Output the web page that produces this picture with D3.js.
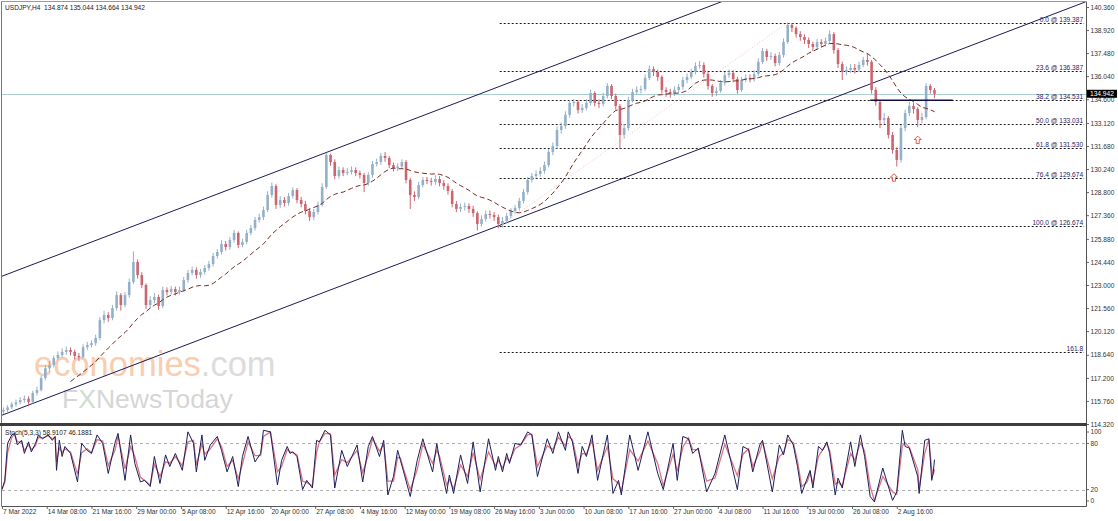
<!DOCTYPE html>
<html><head><meta charset="utf-8">
<script src="https://cdn.jsdelivr.net/npm/d3@7"></script>
<style>
body{margin:0;background:#fff;}
svg{display:block;}
</style></head><body>
<svg id="c" width="1118" height="521"></svg>
<script>
// ---------------- DATA ----------------
const symbolTitle = "USDJPY,H4  134.874 135.044 134.664 134.942";
const stochTitle = "Stoch(5,3,3) 58.9107 46.1881";
const firstOpen = 115.10;
// each candle = 3 consecutive H4 bars
const closes = [
115.19,115.36,115.55,115.68,115.82,115.90,115.70,116.26,116.44,117.19,
117.80,118.00,118.44,118.63,118.82,118.94,118.82,118.57,118.50,119.12,
119.25,119.37,119.69,120.81,121.13,120.94,121.56,122.37,121.75,122.37,
123.19,124.44,123.62,123.00,121.75,122.06,122.25,121.69,122.69,122.56,
122.75,122.56,122.69,123.31,123.75,123.94,123.62,123.81,124.06,124.31,
124.81,125.06,125.56,125.37,125.81,126.25,125.50,125.69,126.25,126.56,
127.06,127.24,127.68,128.62,129.18,128.00,128.31,128.12,128.56,128.93,
128.31,128.06,127.62,127.24,127.56,128.00,129.12,131.12,130.68,129.81,
130.18,129.99,130.06,130.18,129.99,129.87,129.37,129.87,130.56,130.68,
131.06,130.93,130.49,130.31,130.40,130.68,129.56,128.62,128.50,129.24,
129.56,129.49,129.43,129.62,129.37,129.18,128.87,128.06,127.75,127.87,
127.93,127.75,127.49,126.81,127.12,127.43,127.37,127.24,126.81,127.00,
127.31,127.62,127.81,128.25,128.81,129.56,129.81,129.93,130.12,130.49,
131.31,131.68,132.68,132.93,133.62,134.37,134.43,133.93,134.06,134.37,
134.99,134.37,134.31,134.80,135.43,134.80,134.18,132.37,132.80,134.55,
135.05,135.18,135.24,135.93,136.49,136.30,135.99,135.18,135.05,134.95,
135.18,135.37,135.80,135.99,136.30,136.68,136.74,136.18,135.43,134.99,
135.12,135.62,136.11,136.24,135.86,135.18,135.80,135.93,135.85,136.18,
136.93,137.61,137.24,137.30,136.86,137.36,138.17,139.24,139.05,138.67,
138.49,138.30,138.05,137.86,138.17,138.05,138.24,138.67,137.67,136.80,
136.30,136.43,136.55,136.45,136.74,137.05,136.93,135.18,134.43,133.30,
133.43,132.37,131.43,130.81,132.80,133.74,134.18,133.99,133.30,133.49,
135.43,135.18,134.942];
const highs = [
115.35,115.50,115.70,115.85,116.00,116.10,116.05,116.40,116.65,117.35,
118.00,118.25,118.60,118.85,119.05,119.15,119.10,118.95,118.75,119.30,
119.45,119.55,119.90,121.00,121.40,121.30,121.75,122.60,122.50,122.55,
123.40,125.10,124.60,123.80,123.10,122.30,122.50,122.40,122.90,122.85,
122.95,122.90,122.90,123.50,123.95,124.15,124.10,124.00,124.25,124.50,
125.00,125.25,125.80,125.75,126.00,126.45,126.35,125.90,126.45,126.75,
127.25,127.45,127.90,128.85,129.40,129.30,128.55,128.50,128.75,129.10,
129.05,128.50,128.25,127.80,127.75,128.20,129.35,131.25,131.20,130.85,
130.40,130.35,130.30,130.40,130.35,130.15,130.00,130.05,130.75,130.90,
131.25,131.30,131.05,130.65,130.60,130.85,130.80,129.70,128.85,129.45,
129.75,129.75,129.70,129.85,129.80,129.55,129.35,129.00,128.25,128.10,
128.15,128.10,127.95,127.60,127.35,127.65,127.65,127.55,127.40,127.25,
127.50,127.80,128.00,128.45,129.00,129.75,130.00,130.15,130.35,130.70,
131.50,131.90,132.90,133.15,133.85,134.55,134.60,134.55,134.30,134.60,
135.20,135.10,134.60,135.00,135.60,135.55,134.95,134.30,133.05,134.75,
135.25,135.40,135.45,136.15,136.70,136.65,136.45,136.10,135.35,135.25,
135.40,135.55,136.00,136.20,136.50,136.90,137.00,136.90,136.30,135.55,
135.35,135.80,136.30,136.45,136.40,136.00,136.00,136.15,136.15,136.40,
137.15,137.80,137.75,137.55,137.45,137.55,138.40,139.39,139.35,139.15,
138.85,138.65,138.45,138.20,138.35,138.35,138.45,138.90,138.80,137.80,
136.95,136.65,136.80,136.80,136.95,137.25,137.45,137.05,135.35,134.55,
133.75,133.55,132.55,131.60,133.00,133.95,134.45,134.40,134.10,133.75,
135.60,135.55,135.30];
const lows = [
114.95,115.05,115.25,115.40,115.55,115.65,115.50,115.60,116.10,116.35,
117.05,117.60,117.85,118.30,118.45,118.65,118.60,118.35,118.25,118.40,
118.95,119.10,119.20,119.55,120.60,120.70,120.80,121.40,121.40,121.60,
122.20,123.05,123.40,122.80,121.50,121.55,121.85,121.45,121.55,122.35,
122.40,122.35,122.40,122.55,123.15,123.60,123.40,123.45,123.65,123.90,
124.15,124.65,124.90,125.15,125.20,125.65,125.30,125.35,125.55,126.10,
126.40,126.90,127.05,127.55,128.45,127.75,127.80,127.90,127.95,128.40,
128.10,127.85,127.40,127.00,127.05,127.40,127.90,129.00,130.45,129.60,
129.65,129.80,129.85,129.90,129.80,129.65,128.80,129.20,129.70,130.40,
130.50,130.70,130.30,130.10,130.10,130.25,129.35,127.75,128.25,128.35,
129.10,129.30,129.20,129.25,129.15,128.95,128.65,127.85,127.55,127.55,
127.65,127.50,127.25,126.40,126.65,126.95,127.15,127.00,126.55,126.60,
126.85,127.15,127.45,127.65,128.10,128.65,129.40,129.65,129.75,129.95,
130.35,131.10,131.50,132.45,132.75,133.45,134.15,133.70,133.75,133.90,
134.20,134.15,134.05,134.15,134.65,134.60,133.95,131.50,132.15,132.65,
134.40,134.85,134.95,135.10,135.80,136.05,135.75,134.95,134.75,134.70,
134.80,135.00,135.20,135.60,135.85,136.15,136.50,135.95,135.20,134.75,
134.80,135.00,135.45,135.95,135.65,134.95,135.05,135.65,135.65,135.70,
136.05,136.80,137.00,137.05,136.65,136.70,137.20,138.05,138.80,138.45,
138.25,138.05,137.80,137.60,137.70,137.85,137.90,138.10,137.45,136.55,
135.80,136.10,136.25,136.20,136.30,136.60,136.70,134.95,134.20,132.80,
133.05,132.15,131.20,130.40,130.65,132.60,133.55,133.70,132.85,133.10,
133.35,134.95,134.664];
const barsPerCandle = 3;
const maPeriod = 17; // candles (≈50 H4 bars)

const priceTicks = [140.360,138.920,137.480,136.040,134.600,133.120,131.680,130.240,128.800,127.360,125.880,124.440,123.000,121.560,120.120,118.640,117.200,115.760,114.320];
const lastPrice = 134.942;

const timeBars = [0,32,64,96,128,160,192,224,256,288,320,352,384,416,448,480,512,544,576,608,640];
const timeLabels = ["7 Mar 2022","14 Mar 08:00","21 Mar 16:00","29 Mar 00:00","5 Apr 08:00","12 Apr 16:00","20 Apr 00:00","27 Apr 08:00","4 May 16:00","12 May 00:00","19 May 08:00","26 May 16:00","3 Jun 00:00","10 Jun 08:00","17 Jun 16:00","27 Jun 00:00","4 Jul 08:00","11 Jul 16:00","19 Jul 00:00","26 Jul 08:00","2 Aug 16:00"];

const fibLevels = [0.0,23.6,38.2,50.0,61.8,76.4,100.0,161.8];
const fibPrices = [139.387,136.387,134.531,133.031,131.530,129.674,126.674,118.817];
const fibAnchorBars = [356,562];
const fibAnchorPrices = [126.674,139.387];

const channelUpper = [[0,123.55],[560,142.20]];
const channelLower = [[0,114.87],[775,140.68]];
const neckline = [[621,134.531],[680,134.531]];
const arrowBars = [638,655];
const arrowPrices = [129.95,132.30];

const stochBars = [0,2,4,7,9,11,14,16,19,21,24,26,29,33,36,38,39,41,43,45,49,54,57,61,64,68,72,76,81,83,88,92,95,99,102,106,109,113,117,120,124,129,133,137,139,143,145,149,154,157,161,165,169,172,176,181,185,187,192,197,200,204,206,208,211,215,218,222,225,227,231,235,238,243,247,254,258,262,265,270,273,276,280,283,285,287,292,297,301,308,311,313,318,320,323,328,333,337,342,348,353,355,358,361,363,367,371,376,379,383,390,394,398,403,405,408,412,415,418,422,426,433,437,441,443,449,455,462,469,473,480,483,487,491,494,498,504,510,517,526,530,534,537,542,544,551,556,559,562,566,569,572,576,578,580,584,587,590,592,596,598,601,607,610,614,617,621,624,630,637,640,644,646,649,655,656,660,663,665,666,667];
const stochMain = [20,32,80,91,93,78,84,67,82,69,80,91,86,91,84,89,45,84,63,76,67,30,80,71,67,91,80,41,82,93,32,91,54,30,32,24,63,28,65,50,67,45,95,80,43,91,58,78,89,71,43,63,24,63,89,56,67,97,95,26,58,76,67,69,63,20,32,22,84,82,97,91,22,71,50,78,30,76,89,63,84,13,37,71,58,45,11,58,86,43,80,58,15,39,15,65,28,82,17,86,45,63,43,67,54,80,78,95,91,37,86,67,95,71,95,82,41,76,63,91,32,91,15,32,13,91,45,95,41,20,80,32,89,86,67,74,17,41,91,20,76,72,43,78,84,17,78,65,91,78,50,15,35,45,22,76,71,82,67,13,35,22,82,50,91,63,11,4,48,6,17,97,76,74,37,15,84,86,32,41,58.91];
const stochSignal = [21,29,68,88,92,82,82,71,78,72,77,88,87,90,86,88,56,74,68,73,69,40,68,73,68,85,83,51,72,90,47,76,63,36,32,26,53,37,56,54,63,51,82,84,52,79,66,73,86,76,50,58,34,53,82,64,64,89,95,43,50,72,69,68,65,31,29,25,68,82,93,92,39,59,55,71,42,65,86,70,79,31,31,62,61,48,20,46,79,54,71,63,26,33,21,52,37,68,33,69,51,58,48,61,57,73,78,91,92,50,77,72,88,77,89,85,51,67,66,84,45,76,34,28,18,72,57,83,54,25,66,44,75,87,72,72,31,35,79,38,66,73,50,69,82,34,63,68,85,81,57,24,30,42,28,63,72,80,71,27,30,25,67,58,81,70,24,6,37,17,14,77,81,75,46,21,67,85,46,39,46.19];
const stochTicks = [100,80,20,0];
const stochLevels = [80,20];

// ---------------- DRAW ----------------
const FONT = "'Liberation Sans', Arial, sans-serif";
const FS = 6.6;
const svg = d3.select("#c");
svg.append("rect").attr("width",1118).attr("height",521).attr("fill","#fff");

const x = d3.scaleLinear().domain([0,775]).range([2,1085.5]);
const y = d3.scaleLinear().domain([114.32,140.36]).range([424,7]);
const yS = d3.scaleLinear().domain([0,100]).range([505,428]);

const defs = svg.append("defs");
defs.append("clipPath").attr("id","mc").append("rect").attr("x",2).attr("y",2).attr("width",1084).attr("height",421);
defs.append("clipPath").attr("id","sc").append("rect").attr("x",2).attr("y",426).attr("width",1084).attr("height",80);

// watermark
const wm = svg.append("g").attr("font-family",FONT);
const t1 = wm.append("text").attr("x",34).attr("y",376).attr("font-size",34.5);
t1.append("tspan").attr("fill","#f8cdb0").text("economies");
t1.append("tspan").attr("fill","#dcdcdc").text(".com");
const t2 = wm.append("text").attr("x",62).attr("y",408).attr("font-size",26.5).attr("fill","#d6d6d6");
t2.append("tspan").text("F");
t2.append("tspan").attr("fill","#cfdccf").text("X");
t2.append("tspan").text("NewsToday");

const main = svg.append("g").attr("clip-path","url(#mc)");

// last price line
main.append("line").attr("x1",2).attr("x2",1086)
  .attr("y1",Math.round(y(lastPrice))+0.5).attr("y2",Math.round(y(lastPrice))+0.5)
  .attr("stroke","#aacfcf").attr("stroke-width",1);

// fibonacci
const xFibEnd = x(774);
fibLevels.forEach((lv,i)=>{
  const yy = Math.round(y(fibPrices[i]))+0.5;
  main.append("line").attr("x1",x(fibAnchorBars[0])).attr("x2",xFibEnd).attr("y1",yy).attr("y2",yy)
    .attr("stroke","#1a1a1a").attr("stroke-dasharray","2,2").attr("stroke-width",1);
  const label = lv===161.8 ? "161.8" : d3.format(".1f")(lv)+" @ "+d3.format(".3f")(fibPrices[i]);
  main.append("text").attr("x",xFibEnd-1).attr("y",yy-1.5).attr("text-anchor","end")
    .attr("font-family",FONT).attr("font-size",FS).attr("fill","#23236e").text(label);
});
main.append("line")
  .attr("x1",x(fibAnchorBars[0])).attr("y1",y(fibAnchorPrices[0]))
  .attr("x2",x(fibAnchorBars[1])).attr("y2",y(fibAnchorPrices[1]))
  .attr("stroke","#efc3c9").attr("stroke-dasharray","1,2").attr("stroke-width",1);

// channel lines
[channelUpper,channelLower].forEach(c=>{
  main.append("line").attr("x1",x(c[0][0])).attr("y1",y(c[0][1])).attr("x2",x(c[1][0])).attr("y2",y(c[1][1]))
    .attr("stroke","#1b1b55").attr("stroke-width",1);
});

// candles
const candles = closes.map((c,j)=>({
  bar: j*barsPerCandle+1,
  o: j===0 ? firstOpen : closes[j-1],
  c: c, h: highs[j], l: lows[j]
}));
const cg = main.append("g");
candles.forEach(d=>{
  const bull = d.c>=d.o;
  const col = bull ? "#94b0c9" : "#cc6570";
  const cx = x(d.bar);
  cg.append("line").attr("x1",cx).attr("x2",cx).attr("y1",y(d.h)).attr("y2",y(d.l)).attr("stroke",col).attr("stroke-width",1);
  const yt = y(Math.max(d.o,d.c)), yb = y(Math.min(d.o,d.c));
  cg.append("rect").attr("x",cx-1.3).attr("width",2.6).attr("y",yt).attr("height",Math.max(1,yb-yt)).attr("fill",col);
});

// moving average
const ma = candles.map((d,j)=> j>=maPeriod-1 ? {bar:d.bar, v:d3.mean(closes.slice(j-maPeriod+1,j+1))} : null).filter(Boolean);
main.append("path").datum(ma)
  .attr("d",d3.line().x(d=>x(d.bar)).y(d=>y(d.v)))
  .attr("fill","none").attr("stroke","#7a2a25").attr("stroke-width",1).attr("stroke-dasharray","5,3");

// neckline
main.append("line").attr("x1",x(neckline[0][0])).attr("x2",x(neckline[1][0]))
  .attr("y1",y(neckline[0][1])).attr("y2",y(neckline[1][1]))
  .attr("stroke","#0f0f45").attr("stroke-width",1.5);

// arrows
arrowBars.forEach((b,i)=>{
  const ax = x(b), ay = y(arrowPrices[i]);
  main.append("path").attr("d",`M${ax},${ay} l3.5,3.5 h-2 v4 h-3 v-4 h-2 z`)
    .attr("fill","#fff").attr("stroke","#e4574e").attr("stroke-width",1);
});

// title
svg.append("text").attr("x",5).attr("y",10).attr("font-family",FONT).attr("font-size",FS).attr("fill","#222")
  .attr("xml:space","preserve").text(symbolTitle);

// price axis
const pa = svg.append("g").attr("transform","translate(1086,0)")
  .call(d3.axisRight(y).tickValues(priceTicks).tickSize(3).tickFormat(d3.format(".3f")));
pa.select(".domain").remove();
pa.attr("font-family",FONT).attr("font-size",FS);
pa.selectAll("text").attr("x",4.5).attr("fill","#333");
pa.selectAll("line").attr("stroke","#666");

// last price box
const lpY = y(lastPrice);
svg.append("rect").attr("x",1087).attr("y",lpY-4).attr("width",30).attr("height",8).attr("fill","#000");
svg.append("text").attr("x",1090).attr("y",lpY+2.3).attr("font-family",FONT).attr("font-size",FS).attr("fill","#fff").text(d3.format(".3f")(lastPrice));

// stochastic panel
const sg = svg.append("g").attr("clip-path","url(#sc)");
stochLevels.forEach(v=>{
  sg.append("line").attr("x1",2).attr("x2",1086).attr("y1",Math.round(yS(v))+0.5).attr("y2",Math.round(yS(v))+0.5)
    .attr("stroke","#b0b0b0").attr("stroke-dasharray","3,3").attr("stroke-width",1);
});
const sLine = d3.line().x(d=>x(d[0])).y(d=>yS(d[1]));
sg.append("path").datum(d3.zip(stochBars,stochSignal)).attr("d",sLine)
  .attr("fill","none").attr("stroke","#da7583").attr("stroke-width",1.3);
sg.append("path").datum(d3.zip(stochBars,stochMain)).attr("d",sLine)
  .attr("fill","none").attr("stroke","#1e1e5c").attr("stroke-width",1);
svg.append("text").attr("x",5).attr("y",434.5).attr("font-family",FONT).attr("font-size",FS).attr("fill","#222").text(stochTitle);

stochTicks.forEach(v=>{
  const yy = Math.max(432, Math.min(501, yS(v)));
  svg.append("line").attr("x1",1086).attr("x2",1089).attr("y1",yy).attr("y2",yy).attr("stroke","#666");
  svg.append("text").attr("x",1090.5).attr("y",yy+2.3).attr("font-family",FONT).attr("font-size",FS).attr("fill","#333").text(v);
});

// time axis
const ta = svg.append("g").attr("transform","translate(0,506)")
  .call(d3.axisBottom(x).tickValues(timeBars).tickSize(3).tickFormat((d,i)=>timeLabels[i]));
ta.select(".domain").remove();
ta.attr("font-family",FONT).attr("font-size",FS);
ta.selectAll("text").attr("text-anchor","start").attr("dx",0.5).attr("y",3.5).attr("fill","#333");
ta.selectAll("line").attr("stroke","#666");

// frames
svg.append("line").attr("x1",1.5).attr("x2",1.5).attr("y1",1.5).attr("y2",506).attr("stroke","#777");
svg.append("line").attr("x1",1.5).attr("x2",1086).attr("y1",1.5).attr("y2",1.5).attr("stroke","#999");
svg.append("line").attr("x1",1086.5).attr("x2",1086.5).attr("y1",1.5).attr("y2",506.5).attr("stroke","#555");
svg.append("rect").attr("x",0).attr("y",423).attr("width",1087).attr("height",3).attr("fill","#3e3e3e");
svg.append("line").attr("x1",1.5).attr("x2",1086.5).attr("y1",506.5).attr("y2",506.5).attr("stroke","#555");
</script>
</body></html>
